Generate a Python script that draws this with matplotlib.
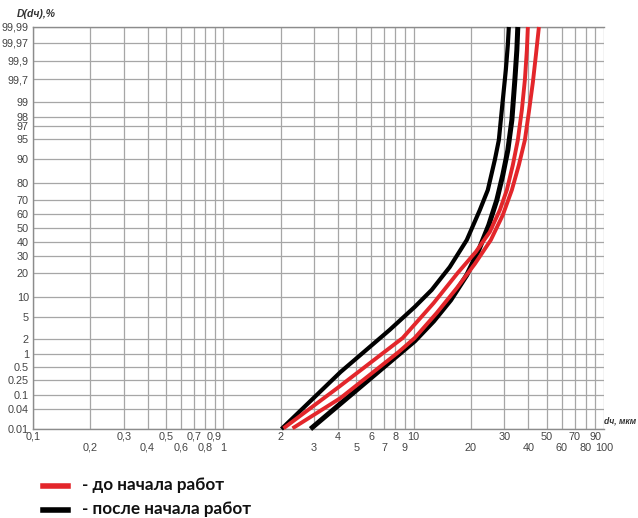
import math
import numpy as np
import matplotlib
matplotlib.use("Agg")
import matplotlib.pyplot as plt
from matplotlib.lines import Line2D

# ================= DATA =================
# particle size d, mkm  /  cumulative share D(d), %
d_black1 = [2.02, 4.13, 7.47, 10.12, 12.44, 15.47, 19.01, 22.26, 24.52, 26.69,
            28.02, 29.40, 30.50, 31.24, 31.62]
p_black1 = [0.01, 0.386, 2.96, 7.19, 12.6, 23.5, 41.2, 63.0, 75.9, 89.6,
            94.8, 99.11, 99.83, 99.965, 99.99]

d_black2 = [2.87, 5.39, 10.12, 12.74, 15.65, 19.01, 21.98, 24.81, 27.35, 29.40,
            31.24, 32.80, 34.01, 34.84, 35.25]
p_black2 = [0.01, 0.184, 1.83, 4.27, 9.14, 19.2, 34.2, 52.2, 69.8, 83.7,
            92.5, 97.7, 99.69, 99.95, 99.99]

d_red1 = [2.07, 3.98, 8.75, 12.74, 17.04, 21.20, 25.12, 28.36, 30.87, 33.19,
          35.25, 37.02, 38.39, 39.33, 39.81]
p_red1 = [0.0105, 0.154, 2.09, 8.26, 20.3, 32.9, 47.1, 63.0, 75.9, 87.8,
          94.8, 98.55, 99.69, 99.95, 99.99]

d_red2 = [2.31, 4.13, 8.34, 10.12, 13.21, 16.84, 20.95, 25.43, 29.40, 32.80,
          35.70, 38.39, 40.30, 42.30, 43.86, 45.50]
p_red2 = [0.0105, 0.083, 1.09, 2.09, 5.79, 13.3, 25.3, 41.2, 59.5, 75.9,
          87.8, 94.8, 98.41, 99.65, 99.93, 99.99]

# x labels go in two rows
x_ticks_row1 = [0.1, 0.3, 0.5, 0.7, 0.9, 2, 4, 6, 8, 10, 30, 50, 70, 90]
x_labels_row1 = ["0,1", "0,3", "0,5", "0,7", "0,9", "2", "4", "6", "8", "10",
                 "30", "50", "70", "90"]
x_ticks_row2 = [0.2, 0.4, 0.6, 0.8, 1, 3, 5, 7, 9, 20, 40, 60, 80, 100]
x_labels_row2 = ["0,2", "0,4", "0,6", "0,8", "1", "3", "5", "7", "9", "20",
                 "40", "60", "80", "100"]

y_ticks = [0.01, 0.04, 0.1, 0.25, 0.5, 1, 2, 5, 10, 20, 30, 40, 50, 60, 70, 80,
           90, 95, 97, 98, 99, 99.7, 99.9, 99.97, 99.99]
y_labels = ["0.01", "0.04", "0.1", "0.25", "0.5", "1", "2", "5", "10", "20", "30",
            "40", "50", "60", "70", "80", "90", "95", "97", "98", "99", "99,7",
            "99,9", "99,97", "99,99"]

RED = "#e3262b"
BLACK = "#000000"
NARROW = ["Liberation Sans Narrow", "Liberation Sans", "DejaVu Sans"]

# ================= PROBABILITY SCALE =================
_erf = np.vectorize(math.erf, otypes=[float])


def cdf(z):
    z = np.asarray(z, dtype=float)
    return 50.0 * (1.0 + _erf(z / math.sqrt(2.0)))


def ppf(p):
    p = np.clip(np.asarray(p, dtype=float), 1e-10, 100 - 1e-10)
    lo = np.full(p.shape, -9.0)
    hi = np.full(p.shape, 9.0)
    for _ in range(60):
        mid = (lo + hi) / 2
        below = cdf(mid) < p
        lo = np.where(below, mid, lo)
        hi = np.where(below, hi, mid)
    return (lo + hi) / 2


# ================= PLOT =================
fig = plt.figure(figsize=(6.38, 5.18), dpi=100)
ax = fig.add_axes([33 / 638, 1 - 429 / 518, 571 / 638, 402 / 518])

ax.set_xscale("log")
ax.set_yscale("function", functions=(ppf, cdf))
ax.set_xlim(0.1, 100)
ax.set_ylim(0.01, 99.99)

kw = dict(solid_capstyle="butt", solid_joinstyle="round", clip_on=False)
ax.plot(d_black1, p_black1, color=BLACK, lw=3.0, zorder=3, **kw)
ax.plot(d_black2, p_black2, color=BLACK, lw=3.6, zorder=3, **kw)
ax.plot(d_red1, p_red1, color=RED, lw=2.8, zorder=4, **kw)
ax.plot(d_red2, p_red2, color=RED, lw=2.8, zorder=4, **kw)

ax.set_xticks(x_ticks_row1)
ax.set_xticklabels(x_labels_row1, family=NARROW)
ax.set_xticks(x_ticks_row2, minor=True)
ax.set_xticklabels(x_labels_row2, minor=True, family=NARROW)
ax.set_yticks(y_ticks)
ax.set_yticklabels(y_labels, family=NARROW)
ax.set_yticks([], minor=True)

ax.tick_params(axis="both", which="both", length=0, labelsize=7.8,
               labelcolor="#444444")
ax.tick_params(axis="x", which="major", pad=2)
ax.tick_params(axis="x", which="minor", pad=10)
ax.tick_params(axis="y", pad=3)

ax.grid(True, which="both", axis="x", color="#a6a6a6", lw=0.9)
ax.grid(True, which="major", axis="y", color="#a6a6a6", lw=0.9)
for s in ax.spines.values():
    s.set_color("#8c8c8c")
    s.set_linewidth(1.0)
ax.spines["right"].set_visible(False)

fig.text(17 / 638, 1 - 14 / 518, "D(dч),%", fontsize=7.5, style="italic",
         fontweight="bold", family=NARROW, color="#333333", va="center", ha="left")
fig.text(636 / 638, 1 - 421 / 518, "dч, мкм", fontsize=6.2, style="italic",
         fontweight="bold", family=NARROW, color="#333333", va="center", ha="right")

# legend
for yy, col, txt in [(485, RED, "- до начала работ"), (509, BLACK, "- после начала работ")]:
    fig.add_artist(Line2D([43 / 638, 68 / 638], [1 - (yy + 1) / 518] * 2, color=col,
                          lw=4, transform=fig.transFigure))
    fig.text(82 / 638, 1 - yy / 518, txt, fontsize=12.3, fontweight="bold",
             family=["Lato", "DejaVu Sans"], color="#111111", va="center", ha="left")

fig.savefig("out.png", dpi=100)
